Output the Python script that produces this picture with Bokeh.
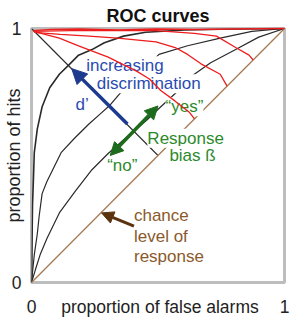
from math import pi
from bokeh.plotting import figure
from bokeh.models import Range1d, FixedTicker, Label, Arrow, NormalHead
from bokeh.embed import file_html
from bokeh.resources import INLINE

# ---------------- data (proportion of false alarms / proportion of hits) ----------------
roc_hi_x = [0, 0.002, 0.004, 0.008, 0.011, 0.023, 0.042, 0.072, 0.110, 0.148, 0.186, 0.239, 0.288, 0.364, 0.451, 0.606, 0.795, 1.0]
roc_hi_y = [0, 0.154, 0.305, 0.417, 0.511, 0.605, 0.692, 0.767, 0.820, 0.857, 0.895, 0.917, 0.944, 0.970, 0.985, 0.994, 0.998, 1.0]

roc_mid_x = [0, 0.004, 0.011, 0.023, 0.030, 0.042, 0.061, 0.080, 0.117, 0.170, 0.227, 0.273, 0.311, 0.360, 0.417, 0.504, 0.617, 0.746, 0.871, 1.0]
roc_mid_y = [0, 0.041, 0.109, 0.192, 0.259, 0.350, 0.398, 0.436, 0.511, 0.568, 0.624, 0.665, 0.699, 0.756, 0.812, 0.898, 0.932, 0.962, 0.989, 1.0]

roc_lo_x = [0, 0.015, 0.034, 0.061, 0.110, 0.174, 0.239, 0.303, 0.379, 0.455, 0.511, 0.568, 0.617, 0.708, 0.807, 0.898, 1.0]
roc_lo_y = [0, 0.049, 0.109, 0.173, 0.274, 0.361, 0.444, 0.508, 0.575, 0.639, 0.692, 0.744, 0.801, 0.865, 0.917, 0.966, 1.0]

chance_x = [0, 1]
chance_y = [0, 1]

dprime_axis_x = [0, 0.5]
dprime_axis_y = [1, 0.5]

# iso-bias curves (red)
bias0_x = [0.008, 0.076, 0.189, 0.341, 0.492, 0.644, 0.795, 1.0]
bias0_y = [0.992, 0.996, 0.998, 0.994, 0.998, 0.996, 0.998, 1.0]

bias1_x = [0.008, 0.152, 0.303, 0.492, 0.644, 0.731, 0.807, 0.860, 0.876]
bias1_y = [0.989, 0.992, 0.992, 0.992, 0.981, 0.970, 0.925, 0.895, 0.876]

bias2_x = [0.011, 0.114, 0.227, 0.341, 0.492, 0.568, 0.617, 0.670, 0.746, 0.773]
bias2_y = [0.985, 0.977, 0.970, 0.962, 0.947, 0.925, 0.898, 0.861, 0.820, 0.773]

bias3_x = [0.008, 0.110, 0.186, 0.303, 0.417, 0.466, 0.511, 0.568, 0.625, 0.644]
bias3_y = [0.989, 0.962, 0.932, 0.887, 0.831, 0.801, 0.756, 0.714, 0.669, 0.644]

# arrows: (x_start, y_start, x_end, y_end)
dprime_arrow = [0.379, 0.624, 0.159, 0.842]
bias_arrow = [0.311, 0.500, 0.500, 0.695]
chance_arrow = [0.405, 0.222, 0.277, 0.274]

# ticks: the x-axis title sits on the same row as the "0" and "1" tick labels
x_tick_values = [0, 0.508, 1]
x_tick_labels = ["0", "proportion of false alarms", "1"]
y_tick_values = [0, 1]

# ---------------- styling ----------------
FONT = "Liberation Sans"
BLUE_T = "#2a4cb0"
BLUE_A = "#1c3a8e"
GREEN_T = "#2c8a2c"
GREEN_A = "#1d6b1d"
BROWN_T = "#8a5a2c"
BROWN_A = "#5a320e"
BROWN_L = "#a57a52"
RED = "#ee1c1c"
BLACK = "#2a2a2a"

p = figure(width=291, height=319, output_backend="svg", toolbar_location=None,
           x_range=Range1d(0, 1), y_range=Range1d(0, 1),
           min_border_left=26, min_border_right=7, min_border_top=26, min_border_bottom=36)

p.title.text = "ROC curves"
p.title.align = "center"
p.title.text_font = FONT
p.title.text_font_size = "18px"
p.title.text_font_style = "bold"
p.title.text_color = "#111111"
p.title.standoff = 6
p.title.offset = 4

p.grid.visible = False
p.outline_line_color = "#bdbdbd"
p.outline_line_width = 3

for ax in (p.xaxis, p.yaxis):
    ax.axis_line_color = None
    ax.major_tick_line_color = None
    ax.minor_tick_line_color = None
    ax.major_tick_out = 0
    ax.major_tick_in = 0
    ax.major_label_text_font = FONT
    ax.major_label_text_font_size = "17.5px"
    ax.major_label_text_color = "#222222"
    ax.axis_label_text_font = FONT
    ax.axis_label_text_font_size = "18px"
    ax.axis_label_text_font_style = "normal"
    ax.axis_label_text_color = "#222222"

p.xaxis.ticker = FixedTicker(ticks=x_tick_values)
p.xaxis.major_label_overrides = dict(zip(x_tick_values, x_tick_labels))
p.xaxis.major_label_standoff = 14
p.yaxis.ticker = FixedTicker(ticks=y_tick_values)
p.yaxis.major_label_standoff = 10
p.yaxis.axis_label = "proportion of hits"
p.yaxis.axis_label_standoff = -15

# black / brown lines (under the text boxes)
for xs, ys, w in ((roc_hi_x, roc_hi_y, 1.6), (roc_mid_x, roc_mid_y, 1.2), (roc_lo_x, roc_lo_y, 1.2)):
    r = p.line(xs, ys, line_color=BLACK, line_width=w)
    r.level = "underlay"
r = p.line(dprime_axis_x, dprime_axis_y, line_color=BLACK, line_width=1.1)
r.level = "underlay"
r = p.line(chance_x, chance_y, line_color=BROWN_L, line_width=1.3)
r.level = "underlay"

def lab(text, x, y, color, size="17px"):
    l = Label(x=x, y=y, text=text, text_color=color, text_font=FONT, text_font_size=size,
              text_align="left", text_baseline="middle",
              background_fill_color="white", level="glyph")
    p.add_layout(l)

lab("increasing", 0.216, 0.853, BLUE_T)
lab("discrimination", 0.258, 0.782, BLUE_T)
lab("d\u2019", 0.174, 0.699, BLUE_T)
lab("\u201cyes\u201d", 0.530, 0.692, GREEN_T)
lab("Response", 0.458, 0.568, GREEN_T)
lab("bias \u00df", 0.545, 0.500, GREEN_T)
lab("\u201cno\u201d", 0.299, 0.462, GREEN_T)
lab("chance", 0.405, 0.263, BROWN_T)
lab("level of", 0.405, 0.180, BROWN_T)
lab("response", 0.405, 0.102, BROWN_T)

# red iso-bias lines on top
for xs, ys in ((bias0_x, bias0_y), (bias1_x, bias1_y), (bias2_x, bias2_y), (bias3_x, bias3_y)):
    r = p.line(xs, ys, line_color=RED, line_width=1.3)
    r.level = "annotation"

# arrows
p.add_layout(Arrow(end=NormalHead(size=15, fill_color=BLUE_A, line_color=BLUE_A),
                   x_start=dprime_arrow[0], y_start=dprime_arrow[1],
                   x_end=dprime_arrow[2], y_end=dprime_arrow[3],
                   line_color=BLUE_A, line_width=3.5, level="overlay"))
p.add_layout(Arrow(start=NormalHead(size=13, fill_color=GREEN_A, line_color=GREEN_A),
                   end=NormalHead(size=13, fill_color=GREEN_A, line_color=GREEN_A),
                   x_start=bias_arrow[0], y_start=bias_arrow[1],
                   x_end=bias_arrow[2], y_end=bias_arrow[3],
                   line_color=GREEN_A, line_width=3.5, level="overlay"))
p.add_layout(Arrow(end=NormalHead(size=12, fill_color=BROWN_A, line_color=BROWN_A),
                   x_start=chance_arrow[0], y_start=chance_arrow[1],
                   x_end=chance_arrow[2], y_end=chance_arrow[3],
                   line_color=BROWN_A, line_width=3, level="overlay"))

open("out.html", "w").write(file_html(p, INLINE))
